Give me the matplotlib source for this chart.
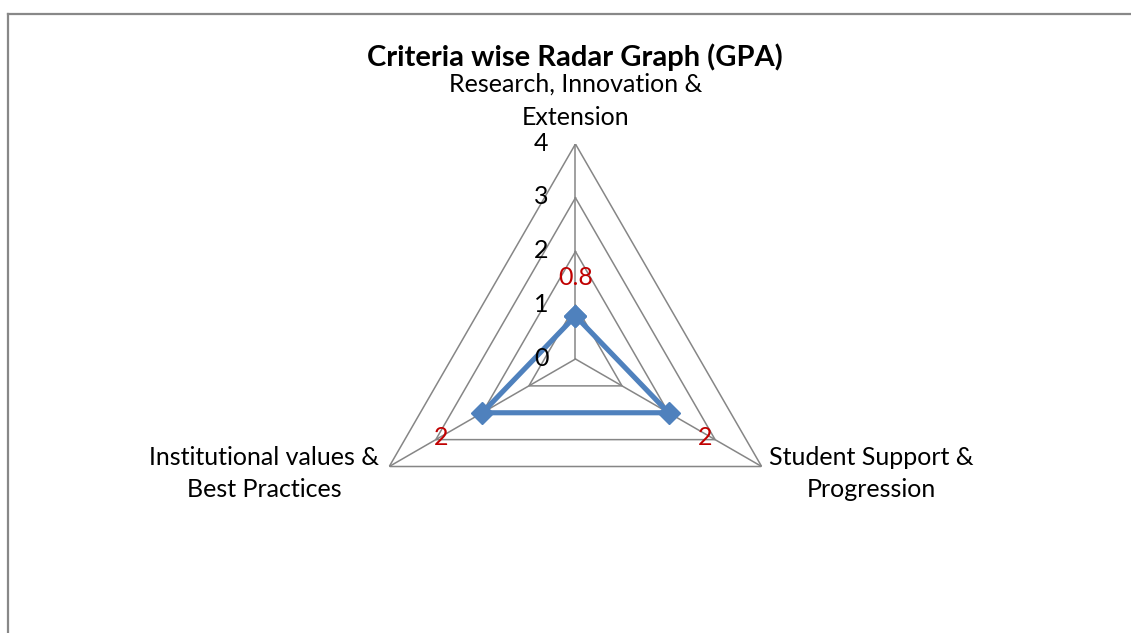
import numpy as np
import matplotlib
matplotlib.use("Agg")
import matplotlib.pyplot as plt
from matplotlib.lines import Line2D

categories = ["Research, Innovation &\nExtension", "Student Support &\nProgression",
              "Institutional values &\nBest Practices"]
values = [0.8, 2, 2]
value_labels = ["0.8", "2", "2"]
ticks = [0, 1, 2, 3, 4]
title = "Criteria wise Radar Graph (GPA)"

plt.rcParams['font.family'] = ['Lato', 'DejaVu Sans']

fig = plt.figure(figsize=(11.31, 6.33), dpi=100)
ax = fig.add_axes([0.3187, 0.0932, 0.3802, 0.6793], projection='polar')
ax.set_theta_zero_location('N')
ax.set_theta_direction(-1)
ax.set_ylim(0, 4)
ax.set_axis_off()

n = len(categories)
theta = np.arange(n) * 2 * np.pi / n
closed = np.concatenate([theta, theta[:1]])
grid_col = '#868686'
for r in ticks[1:]:
    ax.plot(closed, [r] * (n + 1), color=grid_col, lw=1.1, zorder=1)
for t in theta:
    ax.plot([t, t], [0, ticks[-1]], color=grid_col, lw=1.1, zorder=1)

vals = list(values) + [values[0]]
ax.plot(closed, vals, color='#4F81BD', lw=3.7, marker='D', markersize=11.5,
        markeredgecolor='#4F81BD', zorder=3, solid_joinstyle='miter')

FS = 18

# tick labels
for r in ticks:
    ax.annotate(str(r), (0, r), xytext=(-34, 1), textcoords='offset pixels',
                ha='center', va='center', fontsize=FS, color='black')

# category labels
cat_off = [(0, 43, 'center', 'center'), (110, -7, 'center', 'center'),
           (-125, -7, 'center', 'center')]
for t, lab, (dx, dy, ha, va) in zip(theta, categories, cat_off):
    ax.annotate(lab, (t, ticks[-1]), xytext=(dx, dy), textcoords='offset pixels',
                ha=ha, va=va, fontsize=FS, color='black', linespacing=1.52,
                annotation_clip=False)

# data labels
lab_off = [(0, 39), (37, -25), (-41, -25)]
for t, v, lab, (dx, dy) in zip(theta, values, value_labels, lab_off):
    ax.annotate(lab, (t, v), xytext=(dx, dy), textcoords='offset pixels',
                ha='center', va='center', fontsize=FS, color='#C00000', zorder=4)

fig.text(575 / 1131, 1 - 57 / 633, title, ha='center', va='center',
         fontsize=21, fontweight='bold')

# chart border
bc = '#888888'
fig.add_artist(Line2D([8 / 1131, 1.0], [1 - 14 / 633, 1 - 14 / 633],
                      transform=fig.transFigure, color=bc, lw=1.6))
fig.add_artist(Line2D([8 / 1131, 8 / 1131], [1 - 14 / 633, 0],
                      transform=fig.transFigure, color=bc, lw=1.6))

fig.savefig('out.png', dpi=100)
